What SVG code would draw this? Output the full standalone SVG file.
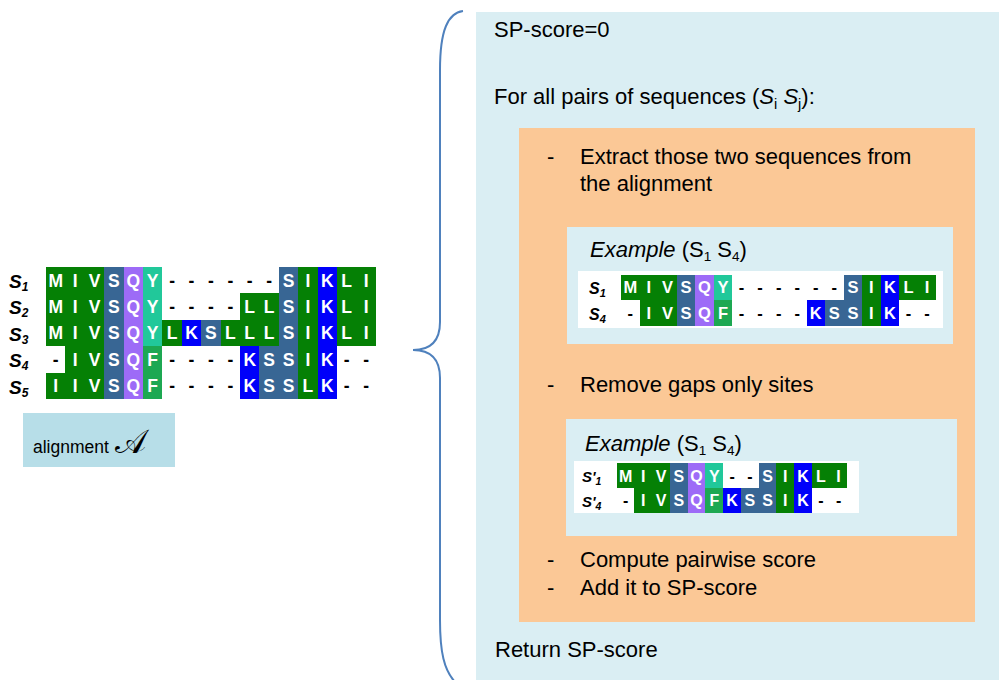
<svg xmlns="http://www.w3.org/2000/svg" width="999" height="680" viewBox="0 0 999 680">
<style>
text{font-family:"Liberation Sans",Arial,sans-serif;}
.t{font-size:22px;fill:#000;}
.g{fill:#058005;}.s{fill:#386694;}.q{fill:#9D6BF7;}.y{fill:#21C89A;}.f{fill:#1DA852;}.k{fill:#0000FA;}
.cells rect{shape-rendering:crispEdges;}
.aa{font-weight:bold;fill:#fff;text-anchor:middle;}
.gap{font-weight:bold;fill:#000;text-anchor:middle;}
.lab{font-weight:bold;font-style:italic;fill:#000;}
.panel{fill:#DAEEF3;}
</style>

<g id="brace">
<path d="M463,11 C448,13 440,30 440,70 L440,322 C440,340 431,350 413,350 C431,350 440,360 440,378 L440,620 C440,652 444,670 455,682" fill="none" stroke="#4F81BD" stroke-width="2"/>
</g>

<g id="alignment">
<g class="cells">
<rect class="g" x="46" y="267" width="58.2" height="26.4"/><rect class="s" x="104.2" y="267" width="19.4" height="26.4"/><rect class="q" x="123.6" y="267" width="19.4" height="26.4"/><rect class="y" x="143" y="267" width="19.4" height="26.4"/><rect class="s" x="278.8" y="267" width="19.4" height="26.4"/><rect class="g" x="298.2" y="267" width="19.4" height="26.4"/><rect class="k" x="317.6" y="267" width="19.4" height="26.4"/><rect class="g" x="337" y="267" width="38.8" height="26.4"/>
<rect class="g" x="46" y="293.4" width="58.2" height="26.4"/><rect class="s" x="104.2" y="293.4" width="19.4" height="26.4"/><rect class="q" x="123.6" y="293.4" width="19.4" height="26.4"/><rect class="y" x="143" y="293.4" width="19.4" height="26.4"/><rect class="g" x="240" y="293.4" width="38.8" height="26.4"/><rect class="s" x="278.8" y="293.4" width="19.4" height="26.4"/><rect class="g" x="298.2" y="293.4" width="19.4" height="26.4"/><rect class="k" x="317.6" y="293.4" width="19.4" height="26.4"/><rect class="g" x="337" y="293.4" width="38.8" height="26.4"/>
<rect class="g" x="46" y="319.8" width="58.2" height="26.4"/><rect class="s" x="104.2" y="319.8" width="19.4" height="26.4"/><rect class="q" x="123.6" y="319.8" width="19.4" height="26.4"/><rect class="y" x="143" y="319.8" width="19.4" height="26.4"/><rect class="g" x="162.4" y="319.8" width="19.4" height="26.4"/><rect class="k" x="181.8" y="319.8" width="19.4" height="26.4"/><rect class="s" x="201.2" y="319.8" width="19.4" height="26.4"/><rect class="g" x="220.6" y="319.8" width="58.2" height="26.4"/><rect class="s" x="278.8" y="319.8" width="19.4" height="26.4"/><rect class="g" x="298.2" y="319.8" width="19.4" height="26.4"/><rect class="k" x="317.6" y="319.8" width="19.4" height="26.4"/><rect class="g" x="337" y="319.8" width="38.8" height="26.4"/>
<rect class="g" x="65.4" y="346.2" width="38.8" height="26.4"/><rect class="s" x="104.2" y="346.2" width="19.4" height="26.4"/><rect class="q" x="123.6" y="346.2" width="19.4" height="26.4"/><rect class="f" x="143" y="346.2" width="19.4" height="26.4"/><rect class="k" x="240" y="346.2" width="19.4" height="26.4"/><rect class="s" x="259.4" y="346.2" width="38.8" height="26.4"/><rect class="g" x="298.2" y="346.2" width="19.4" height="26.4"/><rect class="k" x="317.6" y="346.2" width="19.4" height="26.4"/>
<rect class="g" x="46" y="372.6" width="58.2" height="26.4"/><rect class="s" x="104.2" y="372.6" width="19.4" height="26.4"/><rect class="q" x="123.6" y="372.6" width="19.4" height="26.4"/><rect class="f" x="143" y="372.6" width="19.4" height="26.4"/><rect class="k" x="240" y="372.6" width="19.4" height="26.4"/><rect class="s" x="259.4" y="372.6" width="38.8" height="26.4"/><rect class="g" x="298.2" y="372.6" width="19.4" height="26.4"/><rect class="k" x="317.6" y="372.6" width="19.4" height="26.4"/>
</g>
<g font-size="17.5">
<text class="aa" x="55.7 75.1 94.5 113.9 133.3 152.7" y="286.5">MIVSQY</text>
<text class="gap" x="172.1 191.5 210.9 230.3 249.7 269.1" y="286.5">------</text>
<text class="aa" x="288.5 307.9 327.3 346.7 366.1" y="286.5">SIKLI</text>
<text class="aa" x="55.7 75.1 94.5 113.9 133.3 152.7" y="312.9">MIVSQY</text>
<text class="gap" x="172.1 191.5 210.9 230.3" y="312.9">----</text>
<text class="aa" x="249.7 269.1 288.5 307.9 327.3 346.7 366.1" y="312.9">LLSIKLI</text>
<text class="aa" x="55.7 75.1 94.5 113.9 133.3 152.7 172.1 191.5 210.9 230.3 249.7 269.1 288.5 307.9 327.3 346.7 366.1" y="339.3">MIVSQYLKSLLLSIKLI</text>
<text class="gap" x="55.7" y="365.7">-</text>
<text class="aa" x="75.1 94.5 113.9 133.3 152.7" y="365.7">IVSQF</text>
<text class="gap" x="172.1 191.5 210.9 230.3" y="365.7">----</text>
<text class="aa" x="249.7 269.1 288.5 307.9 327.3" y="365.7">KSSIK</text>
<text class="gap" x="346.7 366.1" y="365.7">--</text>
<text class="aa" x="55.7 75.1 94.5 113.9 133.3 152.7" y="392.1">IIVSQF</text>
<text class="gap" x="172.1 191.5 210.9 230.3" y="392.1">----</text>
<text class="aa" x="249.7 269.1 288.5 307.9 327.3" y="392.1">KSSLK</text>
<text class="gap" x="346.7 366.1" y="392.1">--</text>
</g>
<g font-size="19">
<text class="lab" x="9" y="288">S<tspan font-size="12" dy="3">1</tspan></text>
<text class="lab" x="9" y="314.4">S<tspan font-size="12" dy="3">2</tspan></text>
<text class="lab" x="9" y="340.8">S<tspan font-size="12" dy="3">3</tspan></text>
<text class="lab" x="9" y="367.2">S<tspan font-size="12" dy="3">4</tspan></text>
<text class="lab" x="9" y="393.6">S<tspan font-size="12" dy="3">5</tspan></text>
</g>
</g>

<g id="alignment-label">
<rect x="23" y="413" width="152" height="54" fill="#B7DEE8"/>
<text x="33" y="453" font-size="17.5">alignment</text>
<text x="115" y="453" font-size="33" font-family="'DejaVu Sans','DejaVu Serif','Noto Sans',serif">𝒜</text>
</g>

<g id="sp-panel">
<rect class="panel" x="476" y="12" width="530" height="675"/>
<text class="t" x="494" y="37">SP-score=0</text>
<text class="t" x="494" y="104" font-size="23.2">For all pairs of sequences (<tspan font-style="italic">S</tspan><tspan font-size="14.5" dy="5">i</tspan><tspan dy="-5"> </tspan><tspan font-style="italic">S</tspan><tspan font-size="14.5" dy="5">j</tspan><tspan dy="-5">):</tspan></text>
<text class="t" x="495" y="657" font-size="22.8">Return SP-score</text>
</g>

<g id="loop-body">
<rect x="519" y="128" width="456" height="494" fill="#FBC896"/>
<text class="t" x="547" y="164" font-size="21.5">-</text>
<text class="t" x="580" y="164" font-size="21.5">Extract those two sequences from</text>
<text class="t" x="580" y="191" font-size="21.5">the alignment</text>
<text class="t" x="547" y="392" font-size="21.5">-</text>
<text class="t" x="580" y="392" font-size="21">Remove gaps only sites</text>
<text class="t" x="547" y="567" font-size="21.5">-</text>
<text class="t" x="580" y="567" font-size="21.3">Compute pairwise score</text>
<text class="t" x="547" y="595" font-size="21.5">-</text>
<text class="t" x="580" y="595" font-size="21.3">Add it to SP-score</text>
</g>

<g id="example-1">
<rect class="panel" x="567" y="227" width="386" height="117"/>
<text class="t" x="590" y="257" font-size="20.5"><tspan font-style="italic">Example</tspan> (S<tspan font-size="13.5" dy="4">1</tspan><tspan dy="-4"> S</tspan><tspan font-size="13.5" dy="4">4</tspan><tspan dy="-4">)</tspan></text>
<rect x="578" y="271" width="365" height="57" fill="#fff"/>
<g class="cells">
<rect class="g" x="621" y="274.5" width="55.65" height="25.5"/><rect class="s" x="676.65" y="274.5" width="18.55" height="25.5"/><rect class="q" x="695.2" y="274.5" width="18.55" height="25.5"/><rect class="y" x="713.75" y="274.5" width="18.55" height="25.5"/><rect class="s" x="843.6" y="274.5" width="18.55" height="25.5"/><rect class="g" x="862.15" y="274.5" width="18.55" height="25.5"/><rect class="k" x="880.7" y="274.5" width="18.55" height="25.5"/><rect class="g" x="899.25" y="274.5" width="37.1" height="25.5"/>
<rect class="g" x="639.55" y="300" width="37.1" height="25.5"/><rect class="s" x="676.65" y="300" width="18.55" height="25.5"/><rect class="q" x="695.2" y="300" width="18.55" height="25.5"/><rect class="f" x="713.75" y="300" width="18.55" height="25.5"/><rect class="k" x="806.5" y="300" width="18.55" height="25.5"/><rect class="s" x="825.05" y="300" width="37.1" height="25.5"/><rect class="g" x="862.15" y="300" width="18.55" height="25.5"/><rect class="k" x="880.7" y="300" width="18.55" height="25.5"/>
</g>
<g font-size="16.5">
<text class="aa" x="630.3 648.8 667.4 685.9 704.5 723" y="293.2">MIVSQY</text>
<text class="gap" x="741.6 760.1 778.7 797.2 815.8 834.3" y="293.2">------</text>
<text class="aa" x="852.9 871.4 890 908.5 927.1" y="293.2">SIKLI</text>
<text class="gap" x="630.3" y="318.7">-</text>
<text class="aa" x="648.8 667.4 685.9 704.5 723" y="318.7">IVSQF</text>
<text class="gap" x="741.6 760.1 778.7 797.2" y="318.7">----</text>
<text class="aa" x="815.8 834.3 852.9 871.4 890" y="318.7">KSSIK</text>
<text class="gap" x="908.5 927.1" y="318.7">--</text>
</g>
<g font-size="16">
<text class="lab" x="589" y="294">S<tspan font-size="11" dy="3">1</tspan></text>
<text class="lab" x="589" y="319.5">S<tspan font-size="11" dy="3">4</tspan></text>
</g>
</g>

<g id="example-2">
<rect class="panel" x="566" y="419" width="391" height="117"/>
<text class="t" x="585" y="451" font-size="20.5"><tspan font-style="italic">Example</tspan> (S<tspan font-size="13.5" dy="4">1</tspan><tspan dy="-4"> S</tspan><tspan font-size="13.5" dy="4">4</tspan><tspan dy="-4">)</tspan></text>
<rect x="574" y="461" width="285" height="52" fill="#fff"/>
<g class="cells">
<rect class="g" x="616.7" y="463.3" width="53.25" height="24.7"/><rect class="s" x="669.95" y="463.3" width="17.75" height="24.7"/><rect class="q" x="687.7" y="463.3" width="17.75" height="24.7"/><rect class="y" x="705.45" y="463.3" width="17.75" height="24.7"/><rect class="s" x="758.7" y="463.3" width="17.75" height="24.7"/><rect class="g" x="776.45" y="463.3" width="17.75" height="24.7"/><rect class="k" x="794.2" y="463.3" width="17.75" height="24.7"/><rect class="g" x="811.95" y="463.3" width="35.5" height="24.7"/>
<rect class="g" x="634.45" y="488" width="35.5" height="24.7"/><rect class="s" x="669.95" y="488" width="17.75" height="24.7"/><rect class="q" x="687.7" y="488" width="17.75" height="24.7"/><rect class="f" x="705.45" y="488" width="17.75" height="24.7"/><rect class="k" x="723.2" y="488" width="17.75" height="24.7"/><rect class="s" x="740.95" y="488" width="35.5" height="24.7"/><rect class="g" x="776.45" y="488" width="17.75" height="24.7"/><rect class="k" x="794.2" y="488" width="17.75" height="24.7"/>
</g>
<g font-size="16">
<text class="aa" x="625.6 643.3 661.1 678.8 696.6 714.3" y="481.8">MIVSQY</text>
<text class="gap" x="732.1 749.8" y="481.8">--</text>
<text class="aa" x="767.6 785.3 803.1 820.8 838.6" y="481.8">SIKLI</text>
<text class="gap" x="625.6" y="506.3">-</text>
<text class="aa" x="643.3 661.1 678.8 696.6 714.3 732.1 749.8 767.6 785.3 803.1" y="506.3">IVSQFKSSIK</text>
<text class="gap" x="820.8 838.6" y="506.3">--</text>
</g>
<g font-size="15">
<text class="lab" x="582" y="482">S'<tspan font-size="10.5" dy="3">1</tspan></text>
<text class="lab" x="582" y="506.5">S'<tspan font-size="10.5" dy="3">4</tspan></text>
</g>
</g>
</svg>
